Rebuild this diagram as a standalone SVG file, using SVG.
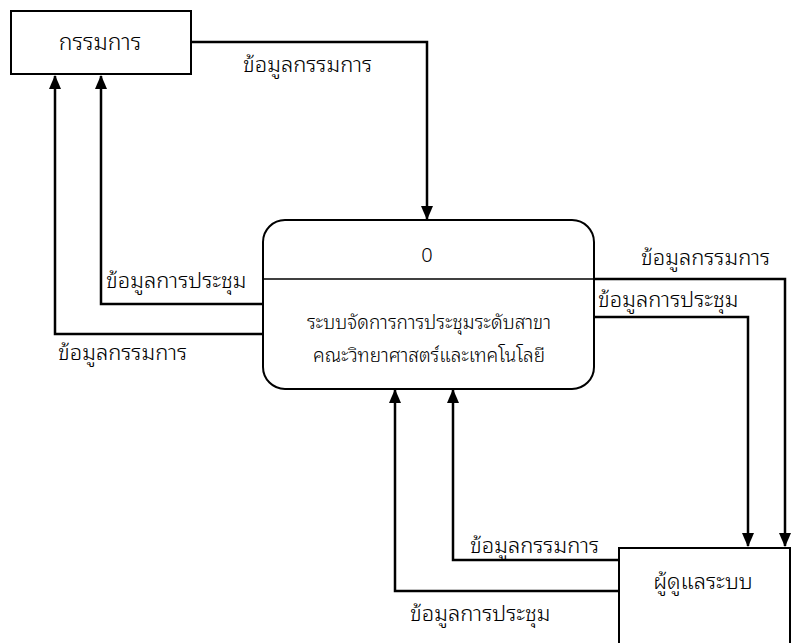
<svg xmlns="http://www.w3.org/2000/svg" width="792" height="643" viewBox="0 0 792 643">
<style>
text{font-family:"Noto Sans Thai Looped","Noto Sans Thai","Noto Sans","Liberation Sans",sans-serif;font-size:22px;font-weight:300;fill:#000}
.box{fill:#fff;stroke:#000;stroke-width:2}
.c{fill:none;stroke:#000;stroke-width:2.5}
.pt{font-size:19px}
.num{font-size:20px}
.t23{font-size:23px}
</style>
<defs>
<marker id="ah" viewBox="0 0 14 12" refX="13" refY="6" markerWidth="14" markerHeight="12" markerUnits="userSpaceOnUse" orient="auto">
<path d="M0,0 L14,6 L0,12 Z" fill="#000"/>
</marker>
</defs>
<rect width="792" height="643" fill="#fff"/>
<g id="connectors">
<path class="c" d="M191,42 H427 V219" marker-end="url(#ah)"/>
<path class="c" d="M263,304 H101 V76" marker-end="url(#ah)"/>
<path class="c" d="M263,334 H55 V76" marker-end="url(#ah)"/>
<path class="c" d="M594,279 H785 V546" marker-end="url(#ah)"/>
<path class="c" d="M594,317 H748 V546" marker-end="url(#ah)"/>
<path class="c" d="M619,560 H453 V390" marker-end="url(#ah)"/>
<path class="c" d="M619,591 H395 V390" marker-end="url(#ah)"/>
</g>
<g id="labels">
<text x="243" y="72">ข้อมูลกรรมการ</text>
<text x="106" y="288">ข้อมูลการประชุม</text>
<text x="58" y="360">ข้อมูลกรรมการ</text>
<text x="641" y="265">ข้อมูลกรรมการ</text>
<text x="598" y="307">ข้อมูลการประชุม</text>
<text x="470" y="553">ข้อมูลกรรมการ</text>
<text x="410" y="621">ข้อมูลการประชุม</text>
</g>
<g id="committee">
<rect class="box" x="11" y="11" width="180" height="63"/>
<text class="t23" x="100" y="50" text-anchor="middle">กรรมการ</text>
</g>
<g id="process0">
<rect class="box" x="263" y="220" width="331" height="169" rx="22" ry="22"/>
<line x1="263" y1="279" x2="594" y2="279" stroke="#000" stroke-width="1.5"/>
<text class="num" x="427" y="262" text-anchor="middle">0</text>
<text class="pt" x="429" y="329" text-anchor="middle">ระบบจัดการการประชุมระดับสาขา</text>
<text class="pt" x="429" y="362" text-anchor="middle">คณะวิทยาศาสตร์และเทคโนโลยี</text>
</g>
<g id="admin">
<rect class="box" x="619" y="548" width="171" height="100"/>
<text x="703" y="589" text-anchor="middle">ผู้ดูแลระบบ</text>
</g>
</svg>
